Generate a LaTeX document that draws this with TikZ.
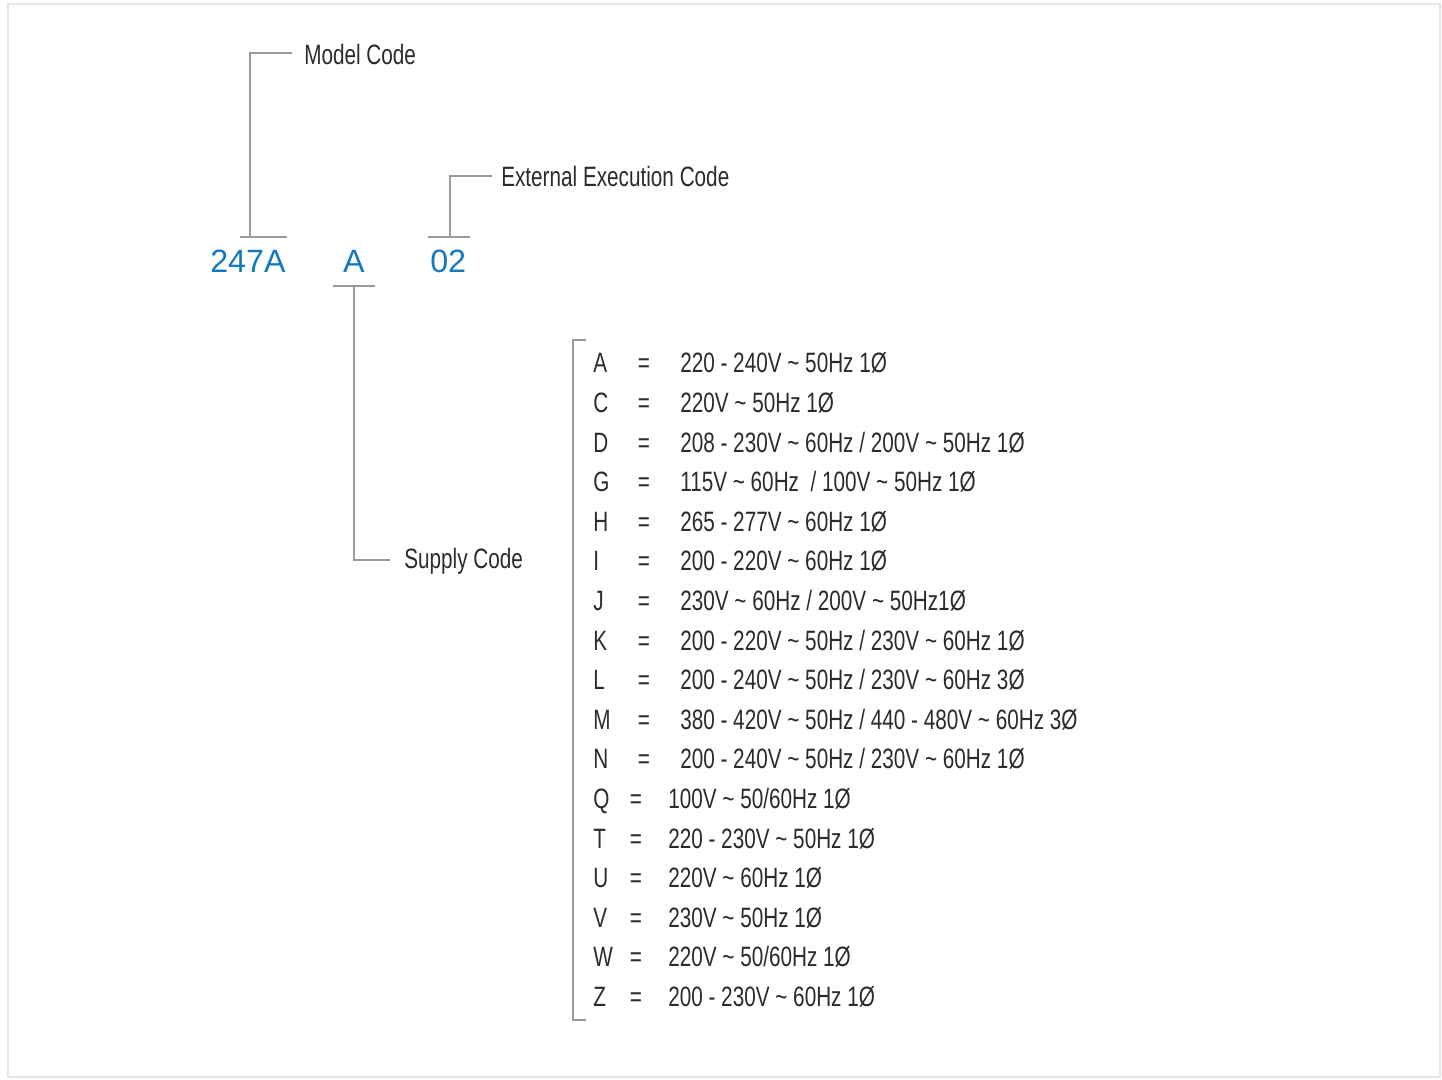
\documentclass[tikz,border=0pt]{standalone}
\usepackage{fontspec}
\setmainfont{Liberation Sans}
\newfontfamily\condf[FakeStretch=0.74]{Liberation Sans}
\definecolor{txt}{HTML}{2B2B2B}
\definecolor{ln}{HTML}{9A9A9A}
\definecolor{codeblue}{HTML}{1478C0}
\definecolor{frame}{HTML}{E6E6E6}
\newcommand\tild{\textasciitilde}
\tikzset{
  lbl/.style={anchor=base west, inner sep=0pt, text=txt, font=\condf\fontsize{21}{25}\selectfont},
  eqs/.style={anchor=base, inner sep=0pt, text=txt, font=\condf\fontsize{21}{25}\selectfont},
  code/.style={anchor=base west, inner sep=0pt, text=codeblue, font=\fontsize{24.2}{28}\selectfont},
  conn/.style={draw=ln, line width=1.3pt},
}
\newcommand\supplyrow[6]{%
  \node[lbl] (k#1) at (593,#2) {#3};
  \node[eqs] (e#1) at (#4,#2) {=};
  \node[lbl] (v#1) at (#5,#2) {#6};
}
\begin{document}
\begin{tikzpicture}[x=0.75pt,y=-0.75pt]
\useasboundingbox (0,0) rectangle (1442,1079);
\draw[frame, line width=2.2pt] (8,4) rectangle (1440,1077);

% codes
\node[code] (c247) at (210,272) {247A};
\node[code, anchor=base] (cA) at (354,272) {A};
\node[code] (c02) at (430,272) {02};

% labels
\node[lbl] (model) at (304,64) {Model Code};
\node[lbl] (ext) at (501,186) {External Execution Code};
\node[lbl] (supply) at (404,568) {Supply Code};

% connector points
\coordinate (m1) at (240,237); \coordinate (m2) at (287,237);
\coordinate (m3) at (250,237); \coordinate (m4) at (292,53);
\coordinate (x1) at (428,237); \coordinate (x2) at (470,237);
\coordinate (x3) at (450,237); \coordinate (x4) at (492,176);
\coordinate (s1) at (333,286); \coordinate (s2) at (375,286);
\coordinate (s3) at (354,286); \coordinate (s4) at (390,560);
\coordinate (b1) at (586,340); \coordinate (b2) at (573,340);
\coordinate (b3) at (573,1020); \coordinate (b4) at (586,1020);

\draw[conn] (m1) -- (m2);
\draw[conn] (m3) |- (m4);
\draw[conn] (x1) -- (x2);
\draw[conn] (x3) |- (x4);
\draw[conn] (s1) -- (s2);
\draw[conn] (s3) |- (s4);
\draw[conn] (b1) -- (b2) -- (b3) -- (b4);

% supply list
\supplyrow{A}{372.5}{A}{644}{680}{220 - 240V \tild{} 50Hz 1Ø}
\supplyrow{C}{412}{C}{644}{680}{220V \tild{} 50Hz 1Ø}
\supplyrow{D}{452}{D}{644}{680}{208 - 230V \tild{} 60Hz / 200V \tild{} 50Hz 1Ø}
\supplyrow{G}{491.5}{G}{644}{680}{115V \tild{} 60Hz \ / 100V \tild{} 50Hz 1Ø}
\supplyrow{H}{531}{H}{644}{680}{265 - 277V \tild{} 60Hz 1Ø}
\supplyrow{I}{570.5}{I}{644}{680}{200 - 220V \tild{} 60Hz 1Ø}
\supplyrow{J}{610}{J}{644}{680}{230V \tild{} 60Hz / 200V \tild{} 50Hz1Ø}
\supplyrow{K}{650}{K}{644}{680}{200 - 220V \tild{} 50Hz / 230V \tild{} 60Hz 1Ø}
\supplyrow{L}{689.5}{L}{644}{680}{200 - 240V \tild{} 50Hz / 230V \tild{} 60Hz 3Ø}
\supplyrow{M}{729}{M}{644}{680}{380 - 420V \tild{} 50Hz / 440 - 480V \tild{} 60Hz 3Ø}
\supplyrow{N}{768.5}{N}{644}{680}{200 - 240V \tild{} 50Hz / 230V \tild{} 60Hz 1Ø}
\supplyrow{Q}{808}{Q}{636}{668}{100V \tild{} 50/60Hz 1Ø}
\supplyrow{T}{848}{T}{636}{668}{220 - 230V \tild{} 50Hz 1Ø}
\supplyrow{U}{887.5}{U}{636}{668}{220V \tild{} 60Hz 1Ø}
\supplyrow{V}{927}{V}{636}{668}{230V \tild{} 50Hz 1Ø}
\supplyrow{W}{966.5}{W}{636}{668}{220V \tild{} 50/60Hz 1Ø}
\supplyrow{Z}{1006}{Z}{636}{668}{200 - 230V \tild{} 60Hz 1Ø}
\end{tikzpicture}
\end{document}
